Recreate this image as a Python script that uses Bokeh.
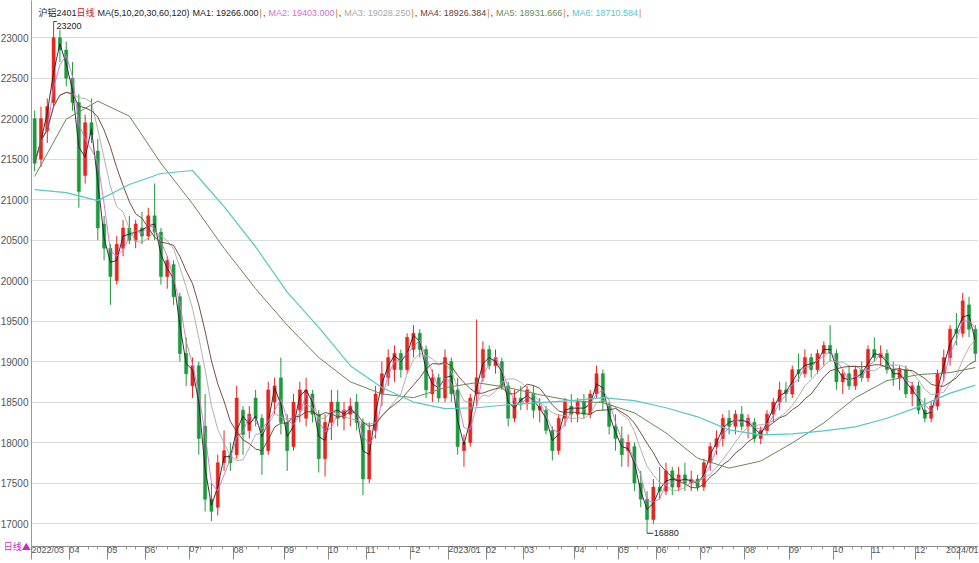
import numpy as np
import pandas as pd
from bokeh.plotting import figure
from bokeh.models import ColumnDataSource, Range1d, FixedTicker, Label
from bokeh.embed import file_html
from bokeh.resources import INLINE

# ---------------- data (one candle = ~3 trading days) -------------
opens = [22000, 21500, 21850, 22200, 23000, 22850, 22500, 22200, 21300, 21950,
         21600, 20700, 20400, 20000, 20400, 20650, 20500, 20650, 20550, 20800,
         20600, 20050, 20200, 19800, 19100, 18700, 18950, 18200, 17300, 17200,
         17750, 17850, 17850, 18400, 18150, 18550, 18300, 17900, 18500, 18800,
         18250, 17950, 18400, 18300, 18600, 18350, 17800, 18250, 18500, 18300,
         18350, 18500, 18250, 17550, 18150, 18600, 18800, 18900, 19100, 18900,
         19150, 19350, 19150, 18600, 18800, 18550, 19000, 18650, 17900, 18000,
         18600, 18800, 19150, 18950, 19000, 18700, 18300, 18550, 18500, 18600,
         18400, 18400, 18150, 17900, 18300, 18450, 18350, 18500, 18350, 18600,
         18850, 18450, 18200, 18050, 17900, 17950, 17500, 17300, 17050, 17450,
         17400, 17650, 17450, 17600, 17500, 17550, 17450, 17750, 17950, 18050,
         18300, 18200, 18350, 18200, 18250, 18050, 18150, 18350, 18500, 18650,
         18600, 18900, 18850, 19050, 18900, 19100, 19200, 19100, 18750, 18850,
         18700, 18900, 18800, 19150, 19050, 19100, 18900, 18800, 18900, 18600,
         18700, 18400, 18300, 18450, 18850, 19050, 19400, 19350, 19700, 19400]
highs = [22100, 22150, 22250, 23200, 23100, 22950, 22700, 22300, 22050, 22250,
         21750, 20800, 20450, 20550, 20750, 20800, 20750, 20850, 20900, 21200,
         20650, 20300, 20250, 19850, 19300, 19050, 19000, 18600, 17500, 17850,
         18150, 18000, 18700, 18450, 18450, 18650, 18350, 18750, 18800, 19050,
         18350, 18600, 18750, 18800, 18650, 18400, 18350, 18650, 18650, 18500,
         18550, 18600, 18300, 18250, 18700, 19000, 19150, 19200, 19150, 19350,
         19450, 19400, 19200, 18900, 18850, 19150, 19050, 18800, 18100, 18600,
         19520, 19250, 19200, 19150, 19050, 18750, 18650, 18700, 18700, 18700,
         18550, 18450, 18200, 18350, 18550, 18600, 18550, 18600, 18650, 18950,
         18900, 18500, 18350, 18200, 18100, 18000, 17650, 17400, 17550, 17700,
         17750, 17700, 17700, 17750, 17650, 17600, 17800, 18000, 18150, 18350,
         18400, 18400, 18450, 18350, 18300, 18200, 18400, 18550, 18750, 18750,
         18950, 19100, 19150, 19100, 19150, 19250, 19450, 19150, 18900, 18950,
         18950, 19000, 19200, 19300, 19200, 19150, 19000, 18950, 18950, 18750,
         18750, 18550, 18500, 18900, 19150, 19450, 19600, 19850, 19800, 19450]
lows = [21350, 21400, 21700, 22150, 22700, 22400, 22100, 20900, 21200, 21700,
        20500, 20250, 19700, 19950, 20300, 20450, 20400, 20450, 20500, 20500,
        19950, 19900, 19700, 19000, 18700, 18550, 17850, 17150, 17030, 17100,
        17650, 17650, 17800, 17850, 18050, 18200, 17600, 17850, 18350, 18100,
        17650, 17900, 18250, 18200, 18250, 17630, 17580, 18030, 18200, 18150,
        18200, 18150, 17350, 17500, 18050, 18450, 18700, 18750, 18800, 18850,
        19050, 19050, 18550, 18500, 18500, 18500, 18500, 17850, 17700, 17950,
        18450, 18750, 18900, 18850, 18650, 18200, 18250, 18400, 18400, 18300,
        18250, 18100, 17780, 17850, 18200, 18250, 18250, 18300, 18300, 18550,
        18400, 18100, 17900, 17700, 17700, 17400, 17200, 16880, 17000, 17300,
        17350, 17350, 17400, 17400, 17400, 17400, 17400, 17650, 17850, 17950,
        18100, 18100, 18150, 18050, 18000, 17980, 18100, 18250, 18400, 18500,
        18550, 18750, 18800, 18800, 18850, 18950, 19000, 18650, 18600, 18650,
        18650, 18750, 18750, 19000, 18950, 18850, 18700, 18650, 18550, 18450,
        18350, 18250, 18250, 18400, 18750, 18950, 19200, 19300, 19300, 19000]
closes = [21450, 22000, 22150, 23000, 22850, 22500, 22200, 21100, 21950, 21800,
          20650, 20400, 20050, 20450, 20650, 20500, 20700, 20550, 20800, 20600,
          20050, 20250, 19800, 19100, 18850, 18950, 18050, 17300, 17150, 17750,
          17900, 17750, 18550, 18100, 18350, 18300, 17850, 18650, 18700, 18250,
          17900, 18500, 18650, 18650, 18350, 17800, 18250, 18500, 18300, 18400,
          18450, 18250, 17550, 18150, 18600, 18850, 19050, 19100, 18900, 19300,
          19350, 19150, 18650, 18800, 18550, 19050, 18600, 17950, 18000, 18550,
          18800, 19150, 18950, 19050, 18700, 18300, 18550, 18500, 18650, 18400,
          18450, 18150, 17900, 18300, 18500, 18350, 18500, 18350, 18600, 18850,
          18500, 18200, 18050, 17850, 18000, 17500, 17300, 17050, 17450, 17400,
          17650, 17450, 17600, 17500, 17550, 17450, 17750, 17950, 18050, 18300,
          18200, 18350, 18200, 18300, 18050, 18150, 18350, 18500, 18650, 18600,
          18900, 18850, 19050, 18900, 19100, 19200, 19100, 18750, 18850, 18700,
          18900, 18800, 19150, 19050, 19100, 18900, 18800, 18900, 18600, 18700,
          18400, 18300, 18450, 18850, 19050, 19400, 19350, 19750, 19400, 19100]

# long moving averages at every 5th candle
ma_long_idx = [0, 5, 10, 15, 20, 25, 30, 35, 40, 45, 50, 55, 60, 65, 70, 75,
               80, 85, 90, 95, 100, 105, 110, 115, 120, 125, 130, 135, 140, 145, 149]
ma60_vals = [21286, 21994, 22217, 22031, 21450, 20950, 20400, 19900, 19450, 19050,
             18750, 18600, 18554, 18678, 18740, 18678, 18591, 18517, 18492, 18367,
             18119, 17808, 17684, 17771, 17995, 18243, 18554, 18765, 18839, 18864, 18926]
ma120_vals = [21125, 21087, 20988, 21187, 21323, 21360, 20913, 20417, 19858, 19423,
              18950, 18680, 18500, 18420, 18430, 18467, 18492, 18517, 18554, 18517,
              18430, 18318, 18156, 18094, 18106, 18144, 18194, 18300, 18440, 18610, 18710]

# month axis: first candle of each month and its label
month_starts = [0, 6, 12, 18, 25, 32, 40, 47, 53, 60, 66, 72, 78, 86, 93, 99,
                106, 113, 120, 127, 133, 140, 147]
month_labels = ["2022/03", "04", "05", "06", "07", "08", "09", "10", "11", "12",
                "2023/01", "02", "03", "04", "05", "06", "07", "08", "09", "10",
                "11", "12", "2024/01"]
y_ticks = [17000, 17500, 18000, 18500, 19000, 19500, 20000, 20500, 21000,
           21500, 22000, 22500, 23000]

legend_parts = ["沪铝2401", "日线", "MA(5,10,20,30,60,120)", "MA1: 19266.000", "|", ",",
                "MA2: 19403.000", "|", ",", "MA3: 19028.250", "|", ",",
                "MA4: 18926.384", "|", ",", "MA5: 18931.666", "|", ",",
                "MA6: 18710.584", "|"]

# ---------------- styling -------------
FONT = "Liberation Sans, Arial, Noto Sans CJK SC, sans-serif"
UP = "#e5261f"
DOWN = "#1d9a3c"
MA_COLORS = ["#222222", "#d070d0", "#a8a8a8", "#6b3b2b", "#6a8a50", "#55c8c8"]
SEP = "#e07a20"
legend_col = ["#222222", "#d02020", "#222222", MA_COLORS[0], SEP, "#222222",
              MA_COLORS[1], SEP, "#222222", MA_COLORS[2], SEP, "#222222",
              MA_COLORS[3], SEP, "#222222", MA_COLORS[4], SEP, "#222222",
              MA_COLORS[5], SEP]
legend_gap = [0, 3, 3, 1, 1, 3, 1, 1, 3, 1, 1, 3, 1, 1, 3, 1, 1, 3, 1, 0]
LEG_FS = 9
CHAR_W = {" ": 278, ",": 278, ".": 278, ":": 278, "(": 333, ")": 333,
          "M": 833, "A": 667, "|": 260}


def text_w(t):
    w = 0
    for ch in t:
        if ch.isdigit():
            w += 556
        elif ch in CHAR_W:
            w += CHAR_W[ch]
        else:
            w += 1000
    return w * LEG_FS / 1000.0


N = len(closes)
x = np.arange(N)
o = np.array(opens, float)
h = np.array(highs, float)
l = np.array(lows, float)
c = np.array(closes, float)
col = np.where(c >= o, UP, DOWN)

src = ColumnDataSource(dict(x=x, o=o, h=h, l=l, c=c, top=np.maximum(o, c),
                            bottom=np.minimum(o, c), color=col))

W, H = 978, 562
Y_TOP, Y_BOT = 23460, 16716
p = figure(width=W, height=H, output_backend="svg", toolbar_location=None,
           x_range=Range1d(-0.5, N - 0.5), y_range=Range1d(Y_BOT, Y_TOP),
           min_border_left=0, min_border_right=0, min_border_top=0, min_border_bottom=0)
p.outline_line_color = None
p.background_fill_color = "white"
p.border_fill_color = "white"

# y axis
p.yaxis.ticker = FixedTicker(ticks=y_ticks)
p.ygrid.ticker = FixedTicker(ticks=y_ticks)
p.ygrid.grid_line_color = "#dcdcdc"
p.xgrid.grid_line_color = None
p.yaxis.major_label_text_font = FONT
p.yaxis.major_label_text_font_size = "10px"
p.yaxis.major_label_text_color = "#555555"
p.yaxis.axis_line_color = "#9a9a9a"
p.yaxis.major_tick_line_color = None
p.yaxis.minor_tick_line_color = None
p.yaxis.major_tick_out = 0
p.yaxis.major_tick_in = 0
p.yaxis.major_label_standoff = 3
# period marker in the bottom-left corner
p.yaxis.axis_label = "日线▲"
p.yaxis.axis_label_orientation = "horizontal"
p.yaxis.axis_label_align = "start"
p.yaxis.axis_label_standoff = -33
p.yaxis.axis_label_text_font = "Noto Sans CJK SC"
p.yaxis.axis_label_text_font_size = "9px"
p.yaxis.axis_label_text_font_style = "normal"
p.yaxis.axis_label_text_color = "#c030c0"

# x axis
xt = [k - 0.5 for k in month_starts]
bounds = xt + [N - 0.5]
minor = []
for a, b in zip(bounds[:-1], bounds[1:]):
    for f in (0.25, 0.5, 0.75):
        minor.append(a + (b - a) * f)
p.xaxis.ticker = FixedTicker(ticks=xt, minor_ticks=minor)
p.xaxis.major_label_overrides = {t: lab for t, lab in zip(xt, month_labels)}
p.xaxis.major_label_orientation = -0.0001
p.xaxis.major_label_text_font = FONT
p.xaxis.major_label_text_font_size = "9px"
p.xaxis.major_label_text_color = "#555555"
p.xaxis.axis_line_color = "#8a8a8a"
p.xaxis.major_tick_line_color = "#8a8a8a"
p.xaxis.minor_tick_line_color = "#9a9a9a"
p.xaxis.major_tick_out = 13
p.xaxis.major_tick_in = 0
p.xaxis.minor_tick_out = 3
p.xaxis.minor_tick_in = 0
p.xaxis.major_label_standoff = -10

# candles
p.segment(x0="x", y0="h", x1="x", y1="l", line_color="color", line_width=1, source=src)
p.vbar(x="x", width=0.5, top="top", bottom="bottom", fill_color="color",
       line_color="color", line_width=0.5, source=src)

# moving averages
s = pd.Series(c)
for win, color in zip([2, 3, 7, 10], MA_COLORS[:4]):
    p.line(x, s.rolling(win, min_periods=1).mean().values, line_color=color,
           line_width=1, line_alpha=0.9)
p.line(ma_long_idx, ma60_vals, line_color=MA_COLORS[4], line_width=1)
p.line(ma_long_idx, ma120_vals, line_color=MA_COLORS[5], line_width=1.2)

# high / low markers
ih = int(np.argmax(h))
il = int(np.argmin(l))
hv = float(h[ih])
lv = float(l[il])
p.segment(x0=[ih, il], y0=[hv, lv], x1=[ih + 0.5, il + 1.0], y1=[hv, lv],
          line_color="#333333", line_width=1)
p.add_layout(Label(x=ih + 0.45, y=hv, text=f"{int(hv)}", text_font=FONT,
                   text_font_size="9px", text_color="#222222", text_baseline="top",
                   y_offset=-1))
p.add_layout(Label(x=il + 1.05, y=lv, text=f"{int(lv)}", text_font=FONT,
                   text_font_size="9px", text_color="#222222", text_baseline="middle"))

# header legend (pieces laid out one after another)
FRAME_L = 31
PX_PER = (W - FRAME_L) / N
y_leg = Y_TOP - 12 * (Y_TOP - Y_BOT) / 543
px = 38.0
for txt, colr, gap in zip(legend_parts, legend_col, legend_gap):
    p.add_layout(Label(x=-0.5 + (px - FRAME_L) / PX_PER, y=y_leg, text=txt,
                       text_font=FONT, text_font_size=f"{LEG_FS}px", text_color=colr,
                       text_baseline="middle"))
    px += text_w(txt) + gap

open("out.html", "w").write(file_html(p, INLINE))
